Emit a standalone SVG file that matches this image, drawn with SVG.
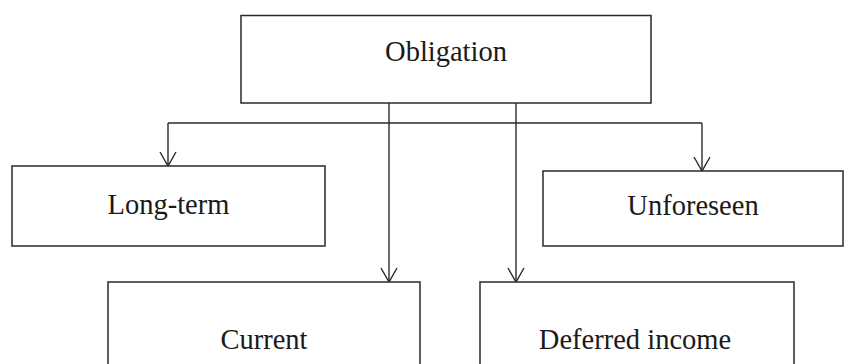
<svg xmlns="http://www.w3.org/2000/svg" width="845" height="364" viewBox="0 0 845 364">
<style>
.box{fill:#fff;stroke:#2a2a2a;stroke-width:1.5}
.lbl{font-family:"Liberation Serif","Times New Roman",serif;font-size:28.5px;fill:#1a1a1a;text-anchor:middle}
.ln{fill:none;stroke:#2a2a2a;stroke-width:1.4}
</style>
<defs>
<marker id="arr" viewBox="0 0 20 20" refX="16" refY="10" markerWidth="20" markerHeight="20" markerUnits="userSpaceOnUse" orient="auto">
<path d="M2,2 L16,10 L2,18" fill="none" stroke="#2a2a2a" stroke-width="1.4"/>
</marker>
</defs>
<rect width="845" height="364" fill="#fff"/>
<g id="connectors">
<path class="ln" d="M389,103 V123"/>
<path class="ln" d="M168,123 H702"/>
<path class="ln" d="M168,123 V166" marker-end="url(#arr)"/>
<path class="ln" d="M702,123 V171" marker-end="url(#arr)"/>
<path class="ln" d="M389,123 V282" marker-end="url(#arr)"/>
<path class="ln" d="M516,103 V282" marker-end="url(#arr)"/>
</g>
<g id="obligation">
<rect class="box" x="241" y="15.5" width="410" height="87.5"/>
<text class="lbl" x="446" y="61">Obligation</text>
</g>
<g id="long-term">
<rect class="box" x="12" y="166" width="313" height="80"/>
<text class="lbl" x="168.5" y="214">Long-term</text>
</g>
<g id="unforeseen">
<rect class="box" x="543" y="171" width="300" height="75"/>
<text class="lbl" x="693" y="215">Unforeseen</text>
</g>
<g id="current">
<rect class="box" x="108" y="282" width="312" height="90"/>
<text class="lbl" x="264" y="349">Current</text>
</g>
<g id="deferred-income">
<rect class="box" x="480" y="282" width="314" height="90"/>
<text class="lbl" x="635" y="349">Deferred income</text>
</g>
</svg>
